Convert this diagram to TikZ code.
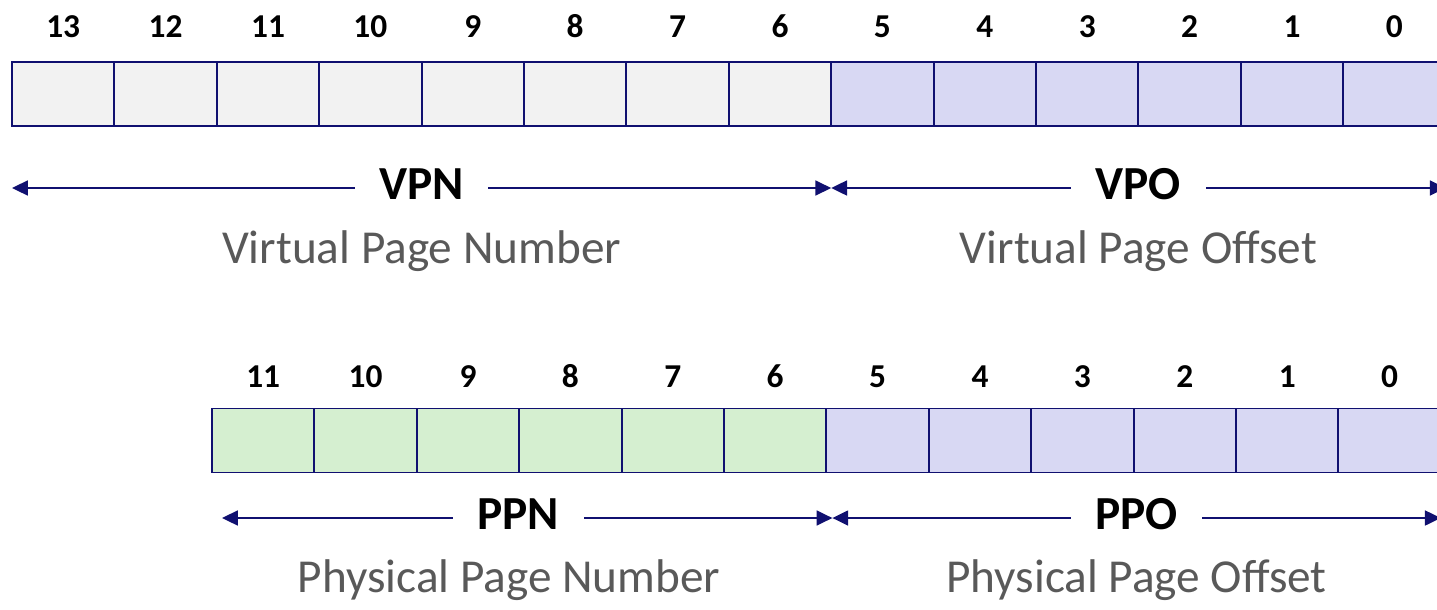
\documentclass[tikz,border=0pt]{standalone}
\usepackage{xcolor}
\usepackage{fontspec}
\setmainfont{Carlito}
\usepackage{tikz}
\usetikzlibrary{positioning, calc, arrows.meta}

\definecolor{navy}{RGB}{16,16,112}
\definecolor{vpnfill}{RGB}{242,242,242}
\definecolor{offfill}{RGB}{216,216,243}
\definecolor{ppnfill}{RGB}{213,239,208}
\definecolor{desctext}{RGB}{89,89,89}

\tikzset{
	bitcell/.style={draw=navy, line width=1.1pt, minimum width=2.048cm, minimum height=1.28cm, inner sep=0pt, outer sep=0pt},
	bitnum/.style={font=\fontsize{19}{21}\selectfont\bfseries, anchor=base},
	fieldarrow/.style={draw=navy, line width=1.1pt, {Triangle[length=9pt,width=8.5pt]}-{Triangle[length=9pt,width=8.5pt]}},
	fieldname/.style={font=\fontsize{27}{30}\selectfont\bfseries, fill=white, inner xsep=14pt, inner ysep=2pt, yshift=0.08cm},
	fielddesc/.style={font=\fontsize{26.9}{30}\selectfont, text=desctext, anchor=base}
}

\begin{document}
\begin{tikzpicture}[x=0.02cm, y=-0.02cm]
	
	\useasboundingbox (0,0) rectangle (1437,609);
	
	%// virtual address, 14 bits
	\foreach \b in {13,...,6}
	\node [bitcell, fill=vpnfill] (v\b) at (12+102.4*13.5-102.4*\b, 94) {};
	\foreach \b in {5,...,0}
	\node [bitcell, fill=offfill] (v\b) at (12+102.4*13.5-102.4*\b, 94) {};
	
	\foreach \b in {13,...,0}
	\node [bitnum] (nv\b) at ($(v\b.north)+(0,-25)$) {\b};
	
	\coordinate (vline) at (0,188);
	\draw [fieldarrow] (v13.south west |- vline) -- node [fieldname] (vpn) {VPN} (v6.south east |- vline);
	\draw [fieldarrow] (v5.south west |- vline) -- node [fieldname] (vpo) {VPO} (v0.south east |- vline);
	
	\node [fielddesc] (vpndesc) at (vpn |- 0,263) {Virtual Page Number};
	\node [fielddesc] (vpodesc) at (vpo |- 0,263) {Virtual Page Offset};
	
	%// physical address, 12 bits
	\foreach \b in {11,...,6}
	\node [bitcell, fill=ppnfill] (p\b) at (212+102.4*11.5-102.4*\b, 440.5) {};
	\foreach \b in {5,...,0}
	\node [bitcell, fill=offfill] (p\b) at (212+102.4*11.5-102.4*\b, 440.5) {};
	
	\foreach \b in {11,...,0}
	\node [bitnum] (np\b) at ($(p\b.north)+(0,-21)$) {\b};
	
	\coordinate (pline) at (0,518);
	\coordinate (pleft) at ($(p11.south west |- pline)+(10,0)$);
	\coordinate (pmid) at ($(p6.south east |- pline)+(6,0)$);
	\draw [fieldarrow] (pleft) -- node [fieldname, pos=0.485] (ppn) {PPN} (pmid);
	\draw [fieldarrow] (pmid) -- node [fieldname] (ppo) {PPO} (p0.south east |- pline);
	
	\node [fielddesc] (ppndesc) at ($(ppn |- 0,592)+(-9,0)$) {Physical Page Number};
	\node [fielddesc] (ppodesc) at (ppo |- 0,592) {Physical Page Offset};
	
\end{tikzpicture}
\end{document}
